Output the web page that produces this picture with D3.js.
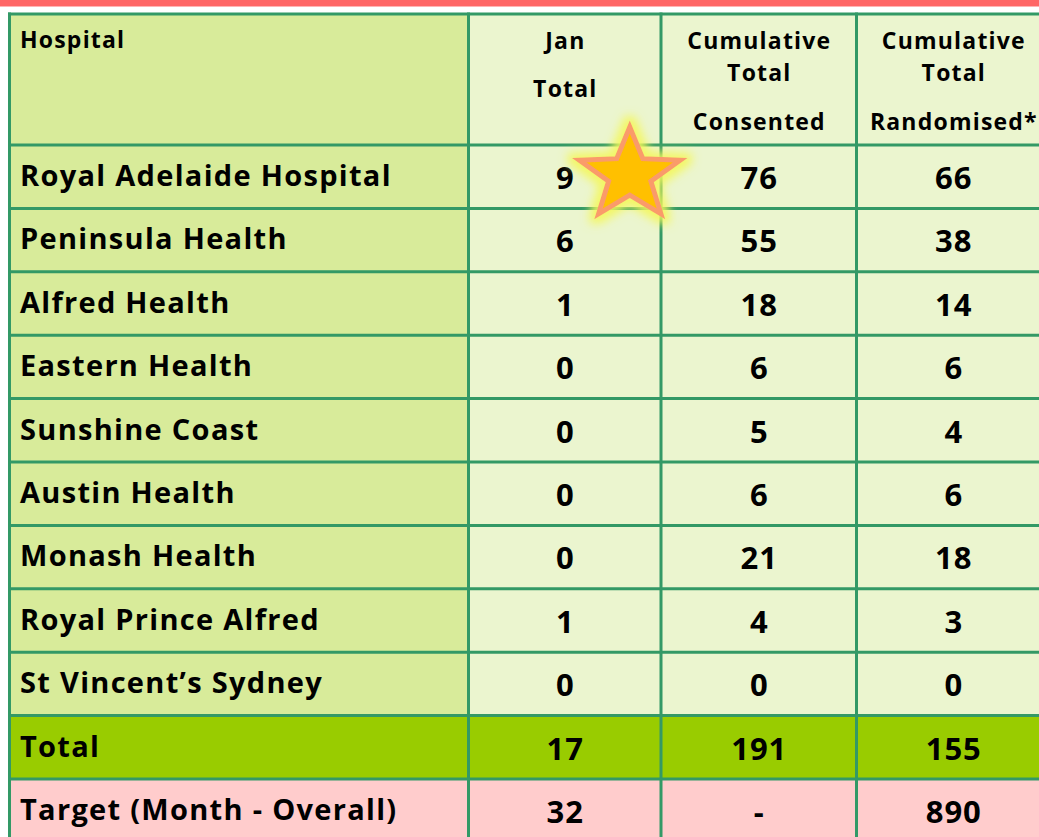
<!DOCTYPE html>
<html>
<head>
<meta charset="utf-8">
<script src="https://cdn.jsdelivr.net/npm/d3@7"></script>
<style>
  body { margin: 0; background: #fff; }
  text { font-family: "Open Sans", "Noto Sans", sans-serif; font-weight: 700; fill: #000; }
</style>
</head>
<body>
<div id="table"></div>
<script>
// recruitment table values
var hospitals = ["Royal Adelaide Hospital", "Peninsula Health", "Alfred Health", "Eastern Health",
    "Sunshine Coast", "Austin Health", "Monash Health", "Royal Prince Alfred", "St Vincent\u2019s Sydney"];
var janTotal = [9, 6, 1, 0, 0, 0, 0, 1, 0];
var cumConsented = [76, 55, 18, 6, 5, 6, 21, 4, 0];
var cumRandomised = [66, 38, 14, 6, 4, 6, 18, 3, 0];
var totalRow = ["Total", 17, 191, 155];
var targetRow = ["Target (Month - Overall)", "32", "-", "890"];
var headers = [["Hospital"], ["Jan", "Total"], ["Cumulative", "Total", "Consented"], ["Cumulative", "Total", "Randomised*"]];

var w = 1039, h = 837;
var svg = d3.select("#table").append("svg")
    .attr("width", w)
    .attr("height", h);

// top red strip
svg.append("rect").attr("x", 0).attr("y", 0).attr("width", w).attr("height", 6).attr("fill", "#ff6666");
svg.append("rect").attr("x", 0).attr("y", 6).attr("width", w).attr("height", 1).attr("fill", "#ffb3b3");

var colEdges = [9.5, 468.5, 661, 856.5, 1050];
var headTop = 14, headBottom = 145;

// build rows
var rows = hospitals.map(function(d, i) {
    return {cells: [d, janTotal[i], cumConsented[i], cumRandomised[i]], kind: "body"};
});
rows.push({cells: totalRow, kind: "total"});
rows.push({cells: targetRow, kind: "target"});

var y = d3.scaleBand()
    .domain(d3.range(rows.length))
    .range([headBottom, headBottom + rows.length * 63.4]);

var colX = function(c) { return colEdges[c]; };
var colW = function(c) { return colEdges[c + 1] - colEdges[c]; };
var colMid = function(c) { return (colEdges[c] + colEdges[c + 1]) / 2; };

function fillFor(kind, c) {
    if (kind == "total") return "#99cc00";
    if (kind == "target") return "#ffcccc";
    return c == 0 ? "#d8eb9a" : "#ebf5cf";
}

// header backgrounds
svg.selectAll(".hcell")
    .data(headers)
    .enter().append("rect")
    .attr("class", "hcell")
    .attr("x", function(d, c) { return colX(c); })
    .attr("y", headTop)
    .attr("width", function(d, c) { return colW(c); })
    .attr("height", headBottom - headTop)
    .attr("fill", function(d, c) { return fillFor("body", c); });

// body backgrounds
var rowG = svg.selectAll(".row")
    .data(rows)
    .enter().append("g")
    .attr("class", "row")
    .attr("transform", function(d, i) { return "translate(0," + y(i) + ")"; });

rowG.selectAll("rect")
    .data(function(d) { return d.cells.map(function(v) { return {v: v, kind: d.kind}; }); })
    .enter().append("rect")
    .attr("x", function(d, c) { return colX(c); })
    .attr("width", function(d, c) { return colW(c); })
    .attr("height", y.bandwidth())
    .attr("fill", function(d, c) { return fillFor(d.kind, c); });

// grid lines
var hLines = [headTop, headBottom].concat(d3.range(1, rows.length + 1).map(function(i) { return y(0) + i * y.step(); }));
svg.selectAll(".hline")
    .data(hLines)
    .enter().append("line")
    .attr("x1", 8).attr("x2", w)
    .attr("y1", function(d) { return d; })
    .attr("y2", function(d) { return d; })
    .attr("stroke", "#339966")
    .attr("stroke-width", 3);

svg.selectAll(".vline")
    .data(colEdges)
    .enter().append("line")
    .attr("x1", function(d) { return d; })
    .attr("x2", function(d) { return d; })
    .attr("y1", headTop - 1.5).attr("y2", h)
    .attr("stroke", "#339966")
    .attr("stroke-width", 3);

// header text
var headerBase = [[48], [49, 96.5], [49, 81, 130], [49, 81, 130]];
headers.forEach(function(lines, c) {
    lines.forEach(function(t, k) {
        svg.append("text")
            .attr("x", c == 0 ? 20 : colMid(c) + 0.6)
            .attr("y", headerBase[c][k])
            .attr("text-anchor", c == 0 ? "start" : "middle")
            .style("font-size", "23px")
            .style("letter-spacing", "1.2px")
            .text(t);
    });
});

// cell text
rowG.selectAll("text")
    .data(function(d) { return d.cells; })
    .enter().append("text")
    .attr("x", function(d, c) { return c == 0 ? 20 : colMid(c) + 0.5; })
    .attr("y", function(d, c) { return c == 0 ? 41 : 44; })
    .attr("text-anchor", function(d, c) { return c == 0 ? "start" : "middle"; })
    .style("font-size", function(d, c) { return c == 0 ? "29px" : "31px"; })
    .style("letter-spacing", function(d, c) { return c == 0 ? "1.3px" : "1px"; })
    .text(function(d) { return d; });

// star highlight on the top Jan value
var defs = svg.append("defs");
var glow = defs.append("filter").attr("id", "glow")
    .attr("x", "-50%").attr("y", "-50%").attr("width", "200%").attr("height", "200%");
glow.append("feMorphology").attr("in", "SourceAlpha").attr("operator", "dilate").attr("radius", 5).attr("result", "grown");
glow.append("feGaussianBlur").attr("in", "grown").attr("stdDeviation", 5).attr("result", "blur");
glow.append("feFlood").attr("flood-color", "#f4f75a").attr("flood-opacity", 0.9);
glow.append("feComposite").attr("in2", "blur").attr("operator", "in").attr("result", "halo");
var merge = glow.append("feMerge");
merge.append("feMergeNode").attr("in", "halo");
merge.append("feMergeNode").attr("in", "SourceGraphic");

var rx = 53, ry = 48, inner = 0.42;
var starPts = d3.range(10).map(function(k) {
    var a = -Math.PI / 2 + k * Math.PI / 5;
    var r = k % 2 == 0 ? 1 : inner;
    return [Math.cos(a) * rx * r, Math.sin(a) * ry * r];
});
svg.append("path")
    .attr("transform", "translate(" + (colMid(1) + 65) + "," + (y(0) + 30) + ")")
    .attr("d", d3.line()(starPts) + "Z")
    .attr("fill", "#ffc000")
    .attr("stroke", "#fa9b6b")
    .attr("stroke-width", 5)
    .attr("stroke-linejoin", "miter")
    .attr("filter", "url(#glow)");
</script>
</body>
</html>
